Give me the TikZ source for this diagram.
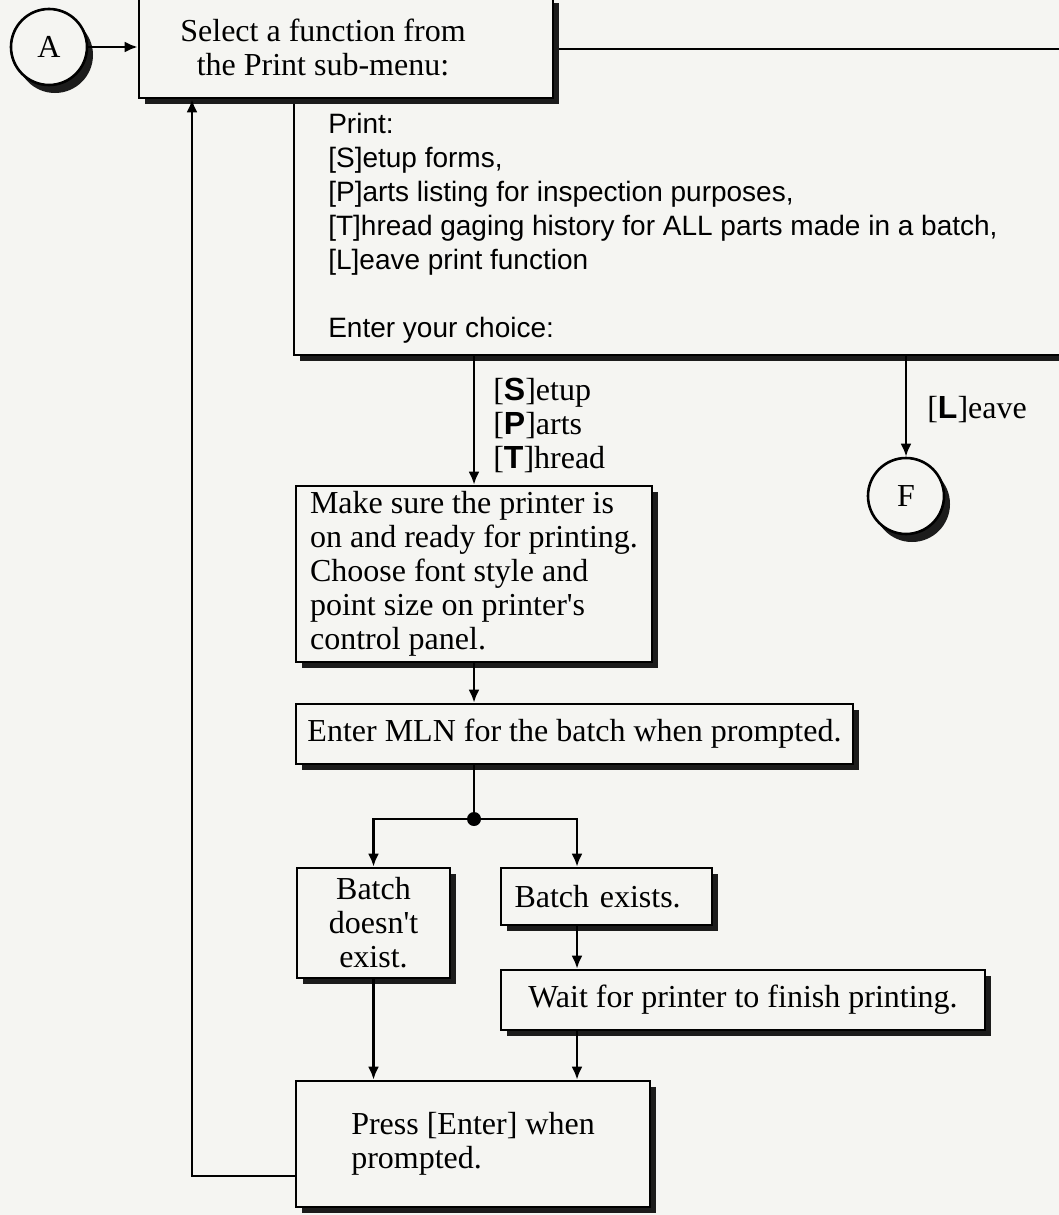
\documentclass[tikz,border=0pt]{standalone}
\usepackage{fontspec}
\setmainfont{Liberation Serif}[Ligatures=TeXOff]
\setsansfont{Liberation Sans}
\usetikzlibrary{arrows.meta,shadows,calc}
\definecolor{paper}{RGB}{245,245,242}
\definecolor{shade}{RGB}{28,28,28}
\newcommand\serifsize{\fontsize{32}{34}\selectfont}
\newcommand\menusize{\fontsize{28}{34}\selectfont\sffamily}
\newcommand\key[1]{{\sffamily\bfseries #1}}
\begin{document}
\begin{tikzpicture}[x=1pt,y=-1pt,line width=2.6pt,
  box/.style={draw, fill=paper, rectangle, inner sep=0pt, font=\serifsize,
    drop shadow={shadow xshift=6pt, shadow yshift=-6pt, opacity=1, fill=shade}},
  circ/.style={draw, fill=paper, circle, inner sep=0pt, minimum size=76pt, font=\serifsize,
    drop shadow={shadow xshift=6pt, shadow yshift=-8pt, opacity=1, fill=shade}},
  arr/.style={-{Latex[length=13pt,width=11pt]}},
  lbl/.style={font=\serifsize, inner sep=0pt}]
% page
\fill[paper] (0,0) rectangle (1059,1215);
\useasboundingbox (0,0) rectangle (1059,1215);

% print sub-menu screen
\node[box, minimum width=796pt, minimum height=306pt] (menu) at (692,202) {};
\node[anchor=north west, font=\menusize, align=left, inner sep=0pt] (menutxt) at (327,112)
  {Print:\\{}[S]etup forms,\\{}[P]arts listing for inspection purposes,\\{}[T]hread gaging history for ALL parts made in a batch,\\{}[L]eave print function\\[34pt]Enter your choice:};

% entry box
\node[box, minimum width=414pt, minimum height=101pt] (select) at (346,47.5) {};
\node[lbl, align=center] (selecttxt) at (323,47.5) {Select a function from\\the Print sub-menu:};

\node[circ] (A) at (49,47) {A};
\draw[arr] (A.east) -- (A.east -| select.west);

% printing steps
\node[box, minimum width=356pt, minimum height=176pt, align=left] (ready) at (474,574)
  {Make sure the printer is\\on and ready for printing.\\Choose font style and\\point size on printer's\\control panel.};
\draw[arr] (ready.north |- menu.south) -- (ready.north);
\node[lbl, anchor=west, align=left] (choice) at (492,425)
  {[\key{S}]etup\\{}[\key{P}]arts\\{}[\key{T}]hread};

\node[circ] (F) at (906,496) {F};
\draw[arr] (F.north |- menu.south) -- (F.north);
\node[lbl, anchor=west] (leave) at (926,410) {[\key{L}]eave};

\node[box, minimum width=557pt, minimum height=60pt] (mln) at (574.5,734)
  {Enter MLN for the batch when prompted.};
\draw[arr] (ready.south) -- (ready.south |- mln.north);

\node[circle, fill=black, inner sep=0pt, minimum size=14pt] (fork) at (474,819) {};
\draw (fork |- mln.south) -- (fork.center);

\node[box, minimum width=153pt, minimum height=110pt, align=center] (nobatch) at (373.5,923)
  {Batch\\doesn't\\exist.};
\node[box, minimum width=211pt, minimum height=57pt, text width=184pt, align=left] (exists) at (606.5,896.5)
  {Batch exists.};
\node[box, minimum width=484pt, minimum height=60pt] (wait) at (743,1000)
  {Wait for printer to finish printing.};
\node[box, minimum width=354pt, minimum height=126pt, align=left] (press) at (473,1144)
  {Press [Enter] when\\prompted.};

\coordinate (rb) at (577,819);
\coordinate (ret) at (192,1176);
\draw[arr] (fork.center) -- (nobatch.north |- fork.center) -- (nobatch.north);
\draw[arr] (fork.center) -- (rb) -- (rb |- exists.north);
\draw[arr] (rb |- exists.south) -- (rb |- wait.north);
\draw[arr] (nobatch.south) -- (nobatch.south |- press.north);
\draw[arr] (rb |- wait.south) -- (rb |- press.north);
\draw[arr] (press.west |- ret) -- (ret) -- (ret |- select.south);
\end{tikzpicture}
\end{document}
